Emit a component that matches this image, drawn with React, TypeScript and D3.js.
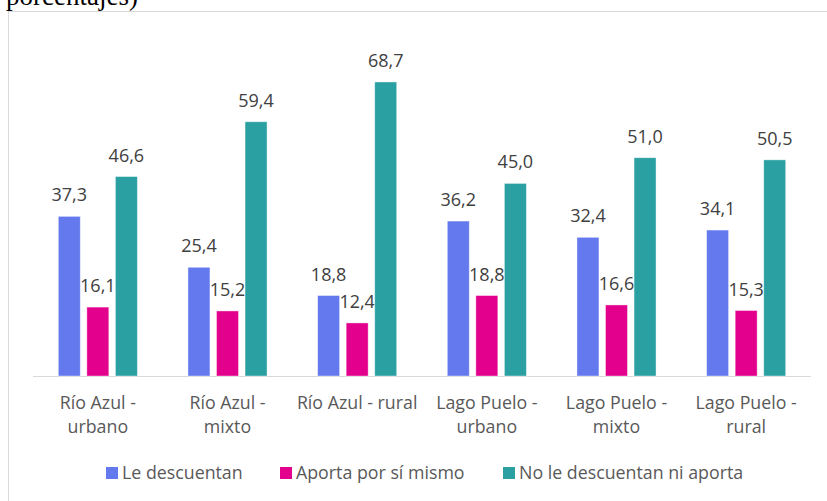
import React from "react";
import * as d3 from "d3";

const categories: string[][] = [
  ["Río Azul -", "urbano"],
  ["Río Azul -", "mixto"],
  ["Río Azul - rural"],
  ["Lago Puelo -", "urbano"],
  ["Lago Puelo -", "mixto"],
  ["Lago Puelo -", "rural"],
];
const seriesNames = ["Le descuentan", "Aporta por sí mismo", "No le descuentan ni aporta"];
const leDescuentan = [37.3, 25.4, 18.8, 36.2, 32.4, 34.1];
const aportaPorSiMismo = [16.1, 15.2, 12.4, 18.8, 16.6, 15.3];
const noLeDescuentan = [46.6, 59.4, 68.7, 45.0, 51.0, 50.5];
const colors = ["#6479EE", "#E3008C", "#2BA0A3"];

const W = 827;
const H = 501;
const FONT = "'Open Sans', sans-serif";

export default function App() {
  const series = [leDescuentan, aportaPorSiMismo, noLeDescuentan];
  const x0 = d3.scaleBand<number>().domain(d3.range(categories.length)).range([33, 811]).padding(0);
  const bw = x0.bandwidth();
  const x1 = d3.scaleBand<number>().domain([0, 1, 2]).range([25.3, bw - 25.3]).paddingInner(0.23).paddingOuter(0);
  const y = d3.scaleLinear().domain([0, 80]).range([376, 376 - 80 * 4.28]);
  const fmt = (v: number) => v.toFixed(1).replace(".", ",");

  const legendItems = [
    { x: 106, tx: 122 },
    { x: 280, tx: 296 },
    { x: 503, tx: 519 },
  ];

  return (
    <svg width={W} height={H} style={{ position: "absolute", left: 0, top: 0, background: "#fff" }}>
      <text x={6} y={5} fontFamily="'Liberation Serif', 'Times New Roman', serif" fontSize={27} fill="#000">
        porcentajes)
      </text>
      <rect x={8.5} y={11.5} width={830} height={500} fill="none" stroke="#d9d9d9" strokeWidth={1} />
      <line x1={33} x2={811} y1={376.5} y2={376.5} stroke="#d9d9d9" strokeWidth={1} />
      {categories.map((c, i) => (
        <g key={i} transform={`translate(${x0(i)},0)`}>
          {series.map((s, j) => {
            const v = s[i];
            const bx = x1(j)!;
            return (
              <g key={j}>
                <rect
                  x={bx}
                  y={y(v)}
                  width={x1.bandwidth()}
                  height={y(0) - y(v)}
                  fill={colors[j]}
                  stroke="#ffffff"
                  strokeOpacity={0.5}
                  strokeWidth={0.8}
                />
                <text
                  x={bx + x1.bandwidth() / 2}
                  y={y(v) - 15}
                  textAnchor="middle"
                  fontFamily={FONT}
                  fontSize={18}
                  fill="#404040"
                >
                  {fmt(v)}
                </text>
              </g>
            );
          })}
          {c.map((line, k) => (
            <text
              key={k}
              x={bw / 2}
              y={408.5 + k * 24}
              textAnchor="middle"
              fontFamily={FONT}
              fontSize={17.8}
              fill="#595959"
            >
              {line}
            </text>
          ))}
        </g>
      ))}
      {seriesNames.map((n, j) => (
        <g key={j}>
          <rect x={legendItems[j].x} y={467} width={12} height={12} fill={colors[j]} />
          <text x={legendItems[j].tx} y={478.5} fontFamily={FONT} fontSize={17.8} fill="#595959">
            {n}
          </text>
        </g>
      ))}
    </svg>
  );
}
